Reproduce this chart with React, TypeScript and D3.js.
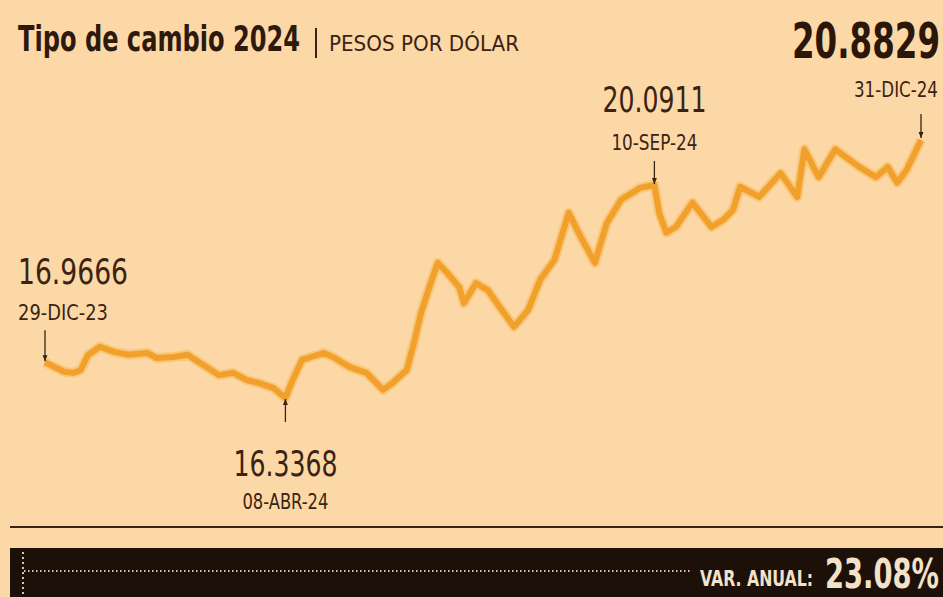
import * as d3 from "d3"
import { useRef, useEffect } from "react"

const dates = [
  "2023-12-29", "2024-01-06", "2024-01-10", "2024-01-13", "2024-01-16", "2024-01-21", "2024-01-27",
  "2024-02-02", "2024-02-10", "2024-02-14", "2024-02-21", "2024-02-27", "2024-02-29", "2024-03-06",
  "2024-03-11", "2024-03-17", "2024-03-23", "2024-03-28", "2024-04-03", "2024-04-08", "2024-04-11",
  "2024-04-15", "2024-04-24", "2024-04-28", "2024-05-05", "2024-05-12", "2024-05-19", "2024-05-23",
  "2024-05-29", "2024-06-01", "2024-06-04", "2024-06-08", "2024-06-11", "2024-06-15", "2024-06-20",
  "2024-06-22", "2024-06-27", "2024-07-02", "2024-07-07", "2024-07-13", "2024-07-19", "2024-07-24",
  "2024-07-30", "2024-08-05", "2024-08-10", "2024-08-16", "2024-08-21", "2024-08-27", "2024-09-04",
  "2024-09-10", "2024-09-12", "2024-09-15", "2024-09-19", "2024-09-26", "2024-10-04", "2024-10-09",
  "2024-10-13", "2024-10-16", "2024-10-24", "2024-11-02", "2024-11-09", "2024-11-12", "2024-11-18",
  "2024-11-25", "2024-12-05", "2024-12-12", "2024-12-17", "2024-12-21", "2024-12-25", "2024-12-31",
]

const pesos = [
  16.9666, 16.8, 16.78, 16.83, 17.09, 17.24, 17.15,
  17.1, 17.13, 17.04, 17.06, 17.1, 17.04, 16.88,
  16.74, 16.78, 16.65, 16.6, 16.51, 16.3368, 16.65,
  17.01, 17.13, 17.06, 16.88, 16.78, 16.48, 16.6,
  16.83, 17.31, 17.84, 18.36, 18.72, 18.54, 18.29,
  18.01, 18.36, 18.24, 17.94, 17.59, 17.89, 18.42,
  18.77, 19.6, 19.18, 18.72, 19.42, 19.83, 20.04,
  20.0911, 19.6, 19.25, 19.35, 19.78, 19.35, 19.48,
  19.65, 20.06, 19.88, 20.3, 19.88, 20.72, 20.23,
  20.72, 20.41, 20.23, 20.41, 20.13, 20.36, 20.8829,
]

// annotated points: first, min, sep 10, last
const noteDates = ["2023-12-29", "2024-04-08", "2024-09-10", "2024-12-31"]
const noteValues = [16.9666, 16.3368, 20.0911, 20.8829]
const noteLabels = ["16.9666", "16.3368", "20.0911", "20.8829"]
const noteDateLabels = ["29-DIC-23", "08-ABR-24", "10-SEP-24", "31-DIC-24"]

const title = "Tipo de cambio 2024"
const subtitle = "PESOS POR DÓLAR"
const varLabel = "VAR. ANUAL:"
const varValue = "23.08%"

const W = 943
const H = 597
const BG = "#fdd8a7"
const INK = "#3a2313"
const NARROW = "'Liberation Sans Narrow', 'DejaVu Sans Condensed', sans-serif"

export default function App() {
  const svgRef = useRef<SVGSVGElement>(null)

  useEffect(() => {
    if (!svgRef.current) return
    const svg = d3.select(svgRef.current)
    svg.selectAll("*").remove()

    const parse = d3.timeParse("%Y-%m-%d")
    const data = dates.map((d, i) => ({ date: parse(d) as Date, value: pesos[i] }))

    const x = d3
      .scaleTime()
      .domain([parse(dates[0]) as Date, parse(dates[dates.length - 1]) as Date])
      .range([45, 921])

    const y = d3.scaleLinear().domain([16.3368, 20.0911]).range([398, 185])

    svg.append("rect").attr("width", W).attr("height", H).attr("fill", BG)

    const label = (tx: number, ty: number, txt: string, anchor: string, size: number, bold: boolean, fill: string, len?: number) => {
      const t = svg
        .append("text")
        .attr("x", tx)
        .attr("y", ty)
        .attr("text-anchor", anchor)
        .style("font-family", NARROW)
        .style("font-weight", bold ? "bold" : "normal")
        .style("font-size", `${size}px`)
        .style("fill", fill)
        .text(txt)
      if (len) t.attr("textLength", len).attr("lengthAdjust", "spacingAndGlyphs")
      return t
    }

    // title
    label(18, 51, title, "start", 35, true, "#2e1a0c", 282)
    svg
      .append("line")
      .attr("x1", 316)
      .attr("x2", 316)
      .attr("y1", 28)
      .attr("y2", 58)
      .attr("stroke", INK)
      .attr("stroke-width", 2)
    label(329, 51, subtitle, "start", 22, false, INK, 190)

    // line
    const line = d3
      .line<{ date: Date; value: number }>()
      .x((d) => x(d.date))
      .y((d) => y(d.value))
      .curve(d3.curveLinear)

    svg
      .append("path")
      .datum(data)
      .attr("d", line)
      .attr("fill", "none")
      .attr("stroke", "#f7c16a")
      .attr("stroke-width", 10)
      .attr("stroke-linejoin", "round")
      .attr("opacity", 0.75)
    svg
      .append("path")
      .datum(data)
      .attr("d", line)
      .attr("fill", "none")
      .attr("stroke", "#f2a02c")
      .attr("stroke-width", 6)
      .attr("stroke-linejoin", "round")

    // annotations
    const arrow = (px: number, y1: number, y2: number) => {
      svg
        .append("line")
        .attr("x1", px)
        .attr("x2", px)
        .attr("y1", y1)
        .attr("y2", y2)
        .attr("stroke", INK)
        .attr("stroke-width", 1.3)
      const dir = y2 > y1 ? 1 : -1
      svg
        .append("path")
        .attr("d", `M${px - 2.5},${y2 - 6 * dir} L${px + 2.5},${y2 - 6 * dir} L${px},${y2} Z`)
        .attr("fill", INK)
    }

    noteDates.forEach((d, i) => {
      const px = x(parse(d) as Date)
      const py = y(noteValues[i])
      if (i === 0) {
        arrow(px, py - 32, py - 1)
        label(18, 284, noteLabels[i], "start", 35, false, INK, 110)
        label(18, 320, noteDateLabels[i], "start", 21, false, INK, 90)
      } else if (i === 1) {
        arrow(px, py + 24, py + 1)
        label(px, 476, noteLabels[i], "middle", 35, false, INK, 104)
        label(px, 509, noteDateLabels[i], "middle", 21, false, INK, 86)
      } else if (i === 2) {
        arrow(px, py - 24, py - 1)
        label(px, 112, noteLabels[i], "middle", 35, false, INK, 104)
        label(px, 150, noteDateLabels[i], "middle", 21, false, INK, 86)
      } else {
        arrow(px, py - 26, py - 2)
        label(940, 58, noteLabels[i], "end", 50, true, "#2a170a", 148)
        label(938, 97, noteDateLabels[i], "end", 21, false, INK, 84)
      }
    })

    // rule
    svg
      .append("line")
      .attr("x1", 10)
      .attr("x2", W)
      .attr("y1", 527)
      .attr("y2", 527)
      .attr("stroke", "#3a2313")
      .attr("stroke-width", 2)

    // bottom bar
    svg.append("rect").attr("x", 10).attr("y", 548).attr("width", W - 10).attr("height", H - 548).attr("fill", "#1d1008")
    svg
      .append("line")
      .attr("x1", 23)
      .attr("x2", 23)
      .attr("y1", 552)
      .attr("y2", H)
      .attr("stroke", "#d8c4a8")
      .attr("stroke-width", 2)
      .attr("stroke-dasharray", "2,3")
    svg
      .append("line")
      .attr("x1", 24)
      .attr("x2", 690)
      .attr("y1", 571)
      .attr("y2", 571)
      .attr("stroke", "#d8c4a8")
      .attr("stroke-width", 2)
      .attr("stroke-dasharray", "1.5,2.5")
    label(700, 586, varLabel, "start", 22, true, "#f3e2ca", 113)
    label(939, 588, varValue, "end", 41, true, "#f3e2ca", 114)
  }, [])

  return (
    <svg
      ref={svgRef}
      width={W}
      height={H}
      style={{ position: "absolute", left: 0, top: 0, display: "block" }}
    ></svg>
  )
}
